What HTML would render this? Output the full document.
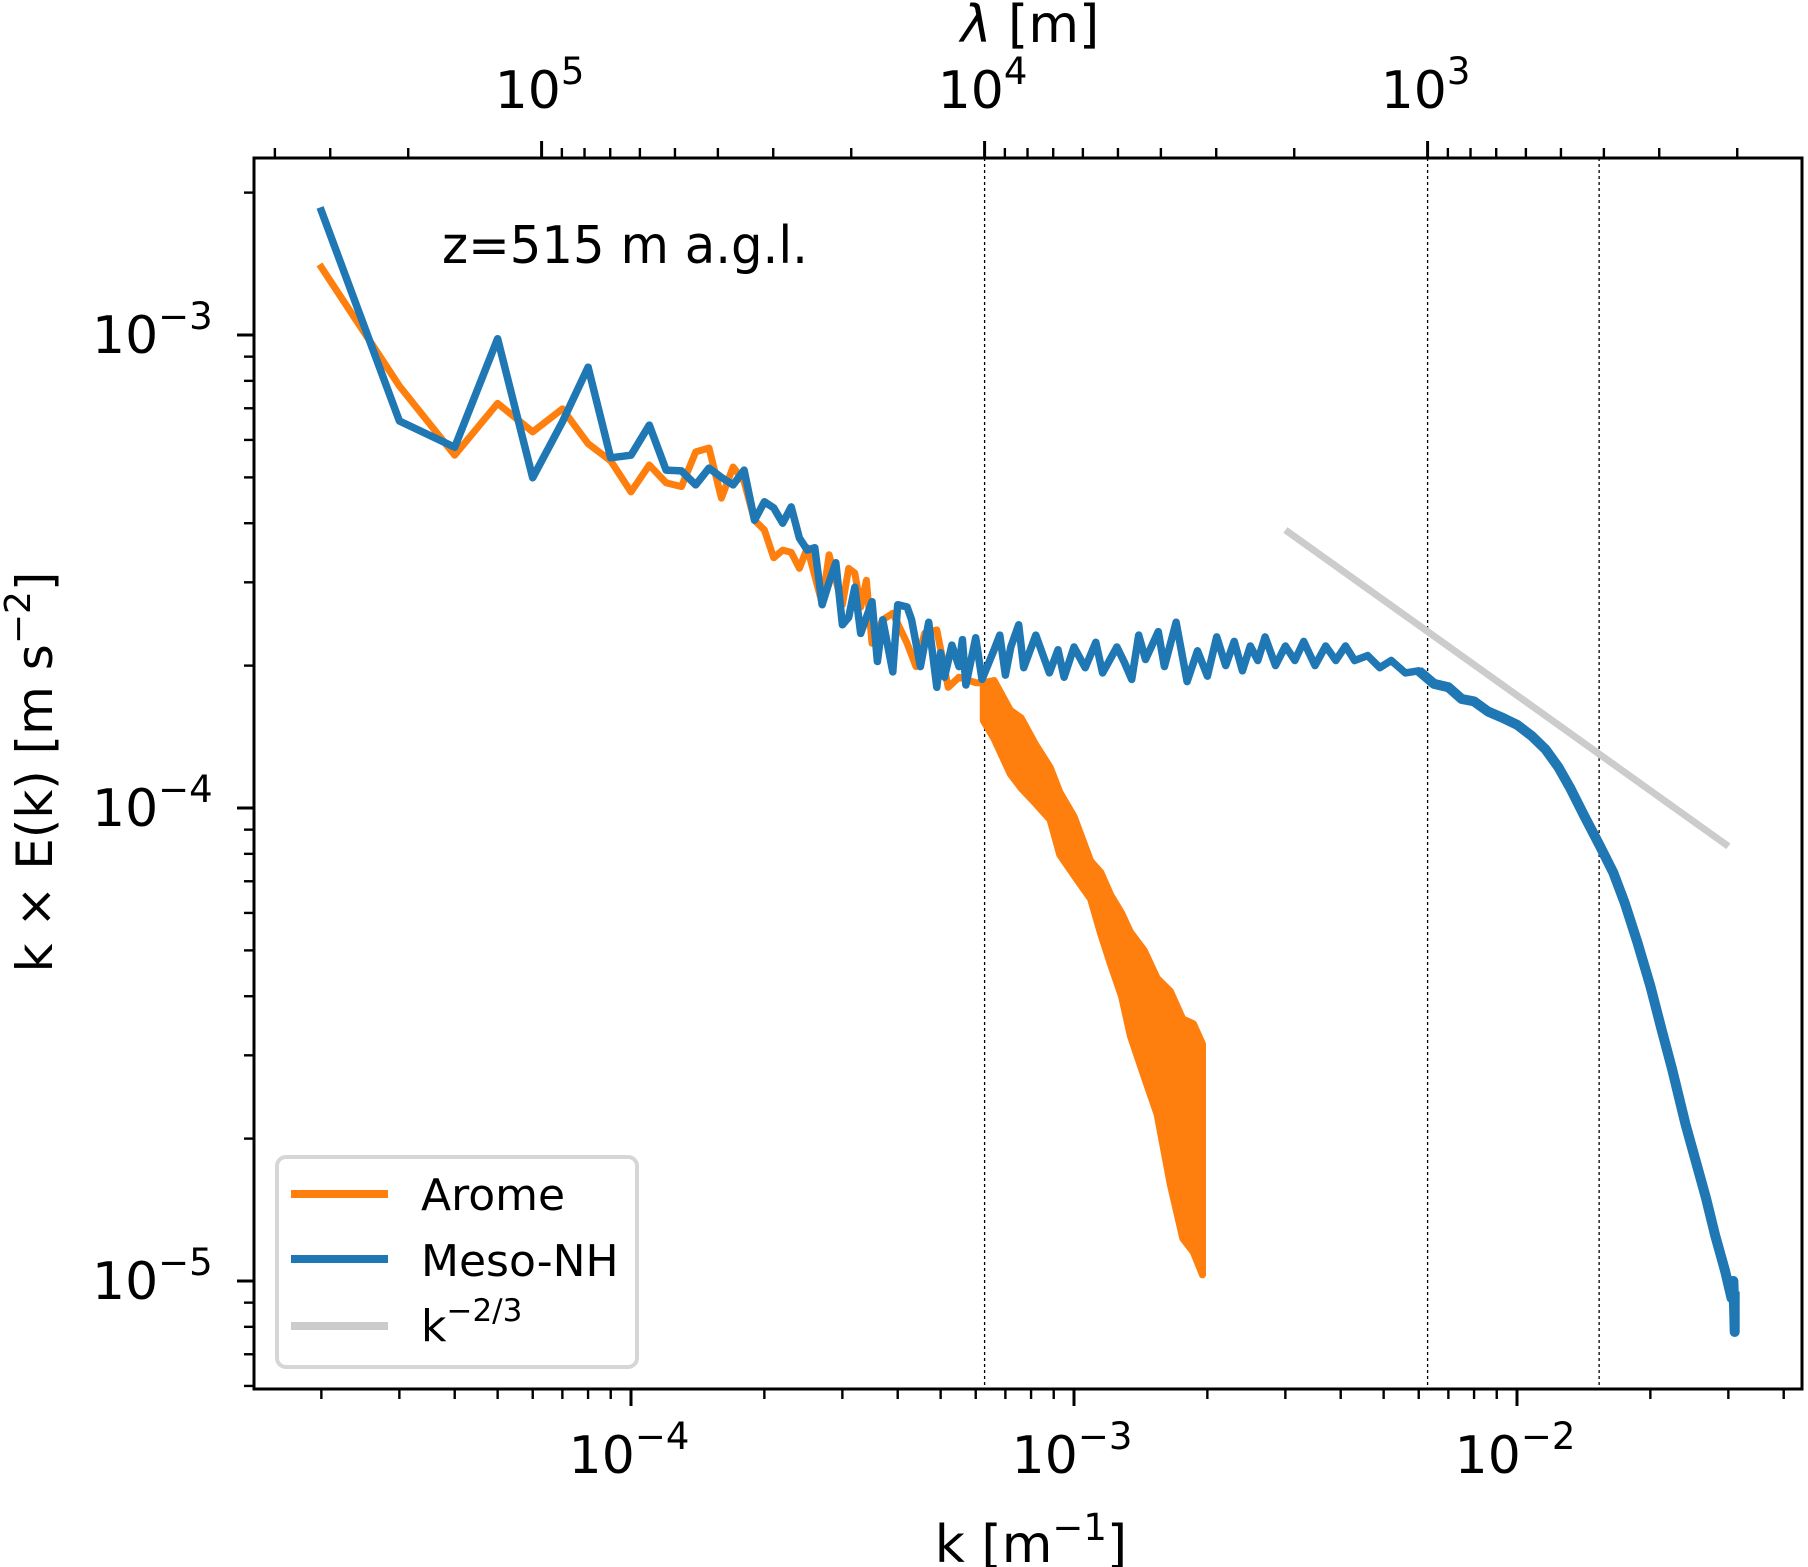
<!DOCTYPE html>
<html><head><meta charset="utf-8"><style>
html,body{margin:0;padding:0;background:#fff}
svg{display:block;font-family:"DejaVu Sans","Liberation Sans",sans-serif}
</style></head><body>
<svg id="chart" width="1808" height="1567" viewBox="0 0 1808 1567" xmlns="http://www.w3.org/2000/svg">
<defs><clipPath id="plotclip"><rect x="254" y="158" width="1548" height="1231"/></clipPath></defs>
<rect x="0" y="0" width="1808" height="1567" fill="#fff"/>
<g id="grid"></g>
<g id="series" clip-path="url(#plotclip)"></g>
<rect x="254" y="158" width="1548" height="1231" fill="none" stroke="#000" stroke-width="3"/>
<g id="ticks"></g>
<text x="442" y="263" font-size="52" textLength="366" lengthAdjust="spacingAndGlyphs">z=515 m a.g.l.</text>
<text x="1031" y="1562" font-size="52" text-anchor="middle">k [m<tspan dy="-22" font-size="37">−1</tspan><tspan dy="22">]</tspan></text>
<text x="1030" y="42" font-size="52" text-anchor="middle"><tspan font-style="italic">λ</tspan> [m]</text>
<text transform="translate(52,772) rotate(-90)" font-size="50" text-anchor="middle">k × E(k) [m s<tspan dy="-22" font-size="36">−2</tspan><tspan dy="22">]</tspan></text>
<g>
<rect x="277" y="1157" width="360" height="210" rx="9" fill="#fff" fill-opacity="0.8" stroke="#d6d6d6" stroke-width="4"/>
<line x1="291" y1="1194" x2="388" y2="1194" stroke="#ff7f0e" stroke-width="8"/>
<text x="421" y="1210" font-size="44">Arome</text>
<line x1="291" y1="1259" x2="388" y2="1259" stroke="#1f77b4" stroke-width="8"/>
<text x="421" y="1276" font-size="44">Meso-NH</text>
<line x1="291" y1="1326" x2="388" y2="1326" stroke="#cccccc" stroke-width="8"/>
<text x="421" y="1341" font-size="44">k<tspan dy="-20" font-size="31">−2/3</tspan></text>
</g>
</svg>
<script>
// ---- data ----
const aromeK = [2e-5,3e-5,4e-5,5e-5,6e-5,7e-5,8e-5,9e-5,1e-4,1.1e-4,1.2e-4,1.3e-4,1.4e-4,1.5e-4,1.6e-4,1.7e-4,1.8e-4,1.9e-4,2.0e-4,2.1e-4,2.2e-4,2.3e-4,2.4e-4,2.5e-4,2.7e-4,2.8e-4,3.0e-4,3.1e-4,3.2e-4,3.3e-4,3.4e-4,3.5e-4,3.7e-4,3.9e-4,4.2e-4,4.4e-4,4.6e-4,4.9e-4,5.2e-4,5.5e-4,6.0e-4,6.24e-4];
const aromeE = [1.39e-3,7.8e-4,5.57e-4,7.17e-4,6.24e-4,6.98e-4,5.89e-4,5.42e-4,4.66e-4,5.31e-4,4.87e-4,4.78e-4,5.66e-4,5.77e-4,4.52e-4,5.26e-4,4.9e-4,4.06e-4,3.87e-4,3.38e-4,3.51e-4,3.47e-4,3.21e-4,3.55e-4,2.71e-4,3.43e-4,2.69e-4,3.21e-4,3.14e-4,2.66e-4,3.03e-4,2.23e-4,2.5e-4,2.58e-4,2.23e-4,1.99e-4,2.34e-4,2.38e-4,1.8e-4,1.89e-4,1.84e-4,1.84e-4];
const aromeBandK = [6.24e-4,6.6e-4,7.18e-4,7.6e-4,8.2e-4,8.83e-4,9.29e-4,1.0e-3,1.09e-3,1.15e-3,1.21e-3,1.28e-3,1.34e-3,1.44e-3,1.54e-3,1.65e-3,1.76e-3,1.86e-3,1.95e-3];
const aromeBandHi = [1.84e-4,1.86e-4,1.61e-4,1.55e-4,1.36e-4,1.22e-4,1.08e-4,9.6e-5,7.73e-5,7.3e-5,6.55e-5,6.0e-5,5.47e-5,5.0e-5,4.37e-5,4.1e-5,3.58e-5,3.5e-5,3.17e-5];
const aromeBandLo = [1.53e-4,1.4e-4,1.18e-4,1.1e-4,1.02e-4,9.44e-5,7.96e-5,7.2e-5,6.42e-5,5.4e-5,4.66e-5,4.0e-5,3.30e-5,2.7e-5,2.25e-5,1.6e-5,1.23e-5,1.15e-5,1.03e-5];
const mesoK = [2e-5,3e-5,4e-5,5e-5,6e-5,7e-5,8e-5,9e-5,1e-4,1.1e-4,1.2e-4,1.3e-4,1.4e-4,1.5e-4,1.6e-4,1.7e-4,1.8e-4,1.9e-4,2.0e-4,2.1e-4,2.2e-4,2.3e-4,2.4e-4,2.5e-4,2.6e-4,2.7e-4,2.8e-4,2.9e-4,3.0e-4,3.1e-4,3.2e-4,3.3e-4,3.5e-4,3.6e-4,3.7e-4,3.9e-4,4.0e-4,4.2e-4,4.3e-4,4.5e-4,4.7e-4,4.9e-4,5.0e-4,5.1e-4,5.3e-4,5.5e-4,5.6e-4,5.7e-4,6.0e-4,6.2e-4,6.6e-4,6.8e-4,7.0e-4,7.2e-4,7.5e-4,7.7e-4,8.2e-4,8.8e-4,9.2e-4,9.5e-4,1.0e-3,1.06e-3,1.12e-3,1.16e-3,1.25e-3,1.3e-3,1.35e-3,1.4e-3,1.45e-3,1.55e-3,1.6e-3,1.7e-3,1.8e-3,1.9e-3,2.0e-3,2.1e-3,2.2e-3,2.3e-3,2.4e-3,2.5e-3,2.6e-3,2.7e-3,2.85e-3,3.0e-3,3.15e-3,3.3e-3,3.5e-3,3.7e-3,3.9e-3,4.1e-3,4.3e-3,4.6e-3,4.9e-3,5.2e-3,5.6e-3,6.0e-3,6.5e-3,7.0e-3,7.5e-3,8.0e-3,8.6e-3,9.3e-3,1.0e-2,1.08e-2,1.16e-2,1.24e-2,1.32e-2,1.42e-2,1.54e-2,1.65e-2,1.75e-2,1.87e-2,2.0e-2,2.12e-2,2.24e-2,2.4e-2,2.55e-2,2.67e-2,2.8e-2,2.95e-2,3.05e-2,3.08e-2,3.1e-2,3.1e-2];
const mesoE = [1.83e-3,6.58e-4,5.79e-4,9.82e-4,4.99e-4,6.55e-4,8.55e-4,5.50e-4,5.57e-4,6.45e-4,5.18e-4,5.16e-4,4.82e-4,5.23e-4,5.0e-4,4.82e-4,5.18e-4,4.06e-4,4.44e-4,4.31e-4,4.0e-4,4.33e-4,3.72e-4,3.51e-4,3.55e-4,2.69e-4,3.0e-4,3.30e-4,2.44e-4,2.53e-4,2.93e-4,2.34e-4,2.73e-4,2.04e-4,2.50e-4,1.94e-4,2.69e-4,2.66e-4,2.50e-4,1.99e-4,2.47e-4,1.80e-4,2.13e-4,1.89e-4,2.21e-4,1.99e-4,2.27e-4,1.82e-4,2.29e-4,1.87e-4,2.16e-4,2.32e-4,1.91e-4,2.19e-4,2.44e-4,1.98e-4,2.32e-4,1.93e-4,2.16e-4,1.89e-4,2.19e-4,1.98e-4,2.24e-4,1.93e-4,2.19e-4,2.03e-4,1.87e-4,2.32e-4,2.06e-4,2.36e-4,1.99e-4,2.47e-4,1.85e-4,2.15e-4,1.9e-4,2.3e-4,2.0e-4,2.25e-4,1.95e-4,2.2e-4,2.05e-4,2.3e-4,2.0e-4,2.2e-4,2.05e-4,2.25e-4,2.0e-4,2.2e-4,2.05e-4,2.2e-4,2.05e-4,2.1e-4,1.98e-4,2.05e-4,1.93e-4,1.95e-4,1.83e-4,1.8e-4,1.7e-4,1.68e-4,1.6e-4,1.55e-4,1.5e-4,1.42e-4,1.33e-4,1.22e-4,1.1e-4,9.6e-5,8.3e-5,7.3e-5,6.3e-5,5.2e-5,4.2e-5,3.4e-5,2.8e-5,2.15e-5,1.75e-5,1.5e-5,1.25e-5,1.05e-5,9.2e-6,1.0e-5,7.8e-6,9.5e-6];
const slopeK = [3e-3,3e-2];
const slopeE = [3.87e-4,8.3e-5];
const refLambda = [1e4,1e3,410];
const xMajor = [1e-4,1e-3,1e-2];
const xMajorLabels = ["−4","−3","−2"];
const yMajor = [1e-5,1e-4,1e-3];
const yMajorLabels = ["−5","−4","−3"];
const lamMajor = [1e5,1e4,1e3];
const lamMajorLabels = ["5","4","3"];

// ---- scales ----
const L=254,R=1802,T=158,B=1389;
function X(k){return 631+443*(Math.log10(k)+4);}
function Y(v){return 1281-473*(Math.log10(v)+5);}
const NS="http://www.w3.org/2000/svg";
function mk(tag,attrs,parent){const e=document.createElementNS(NS,tag);for(const a in attrs)e.setAttribute(a,attrs[a]);parent.appendChild(e);return e;}
const series=document.getElementById('series'), grid=document.getElementById('grid'), ticks=document.getElementById('ticks');

refLambda.forEach(l=>{const x=X(2*Math.PI/l);
 const ln=mk('line',{x1:x,x2:x,y1:T,y2:B,stroke:'#000','stroke-width':1.3,'stroke-dasharray':'3,3'},grid);
 
 });

function poly(ks,vs){return ks.map((k,i)=>X(k).toFixed(1)+','+Y(vs[i]).toFixed(1)).join(' ');}
const aLine=mk('polyline',{points:poly(aromeK,aromeE),fill:'none',stroke:'#ff7f0e','stroke-width':7,'stroke-linejoin':'round','stroke-linecap':'square'},series);


const bandPts=poly(aromeBandK,aromeBandHi)+' '+poly(aromeBandK.slice().reverse(),aromeBandLo.slice().reverse());
const aBand=mk('polygon',{points:bandPts,fill:'#ff7f0e',stroke:'#ff7f0e','stroke-width':7,'stroke-linejoin':'round'},series);


const mLine=mk('polyline',{points:poly(mesoK,mesoE),fill:'none',stroke:'#1f77b4','stroke-width':7.5,'stroke-linejoin':'round','stroke-linecap':'square'},series);


const tailStart=mesoK.findIndex(k=>k>=6e-3);
const mTail=mk('polyline',{points:poly(mesoK.slice(tailStart),mesoE.slice(tailStart)),fill:'none',stroke:'#1f77b4','stroke-width':10,'stroke-linejoin':'round'},series);


const sLine=mk('polyline',{points:poly(slopeK,slopeE),fill:'none',stroke:'#cccccc','stroke-width':7},series);



function tick(x1,y1,x2,y2,w){const t=mk('line',{x1,y1,x2,y2,stroke:'#000','stroke-width':w},ticks);
 
 }
function label(x,y,base,sup,anchor){const t=mk('text',{x,y,'font-size':52,'text-anchor':anchor},ticks);
 
 
 t.appendChild(document.createTextNode(base));
 const s=mk('tspan',{dy:-24,'font-size':37},t);s.textContent=sup;}
for(let e=-5;e<=-2;e++)for(let m=1;m<10;m++){const k=m*Math.pow(10,e);const x=X(k);if(x<L||x>R)continue;
 if(m===1)tick(x,B,x,B+17,3);else tick(x,B,x,B+10,2.4);}
xMajor.forEach((k,i)=>label(X(k)-2,1473,"10",xMajorLabels[i],'middle'));
for(let e=-6;e<=-3;e++)for(let m=1;m<10;m++){const v=m*Math.pow(10,e);const y=Y(v);if(y<T||y>B)continue;
 if(m===1)tick(L-17,y,L,y,3);else tick(L-10,y,L,y,2.4);}
yMajor.forEach((v,i)=>label(92,Y(v)+18,"10",yMajorLabels[i],'start'));
for(let e=2;e<=5;e++)for(let m=1;m<10;m++){const l=m*Math.pow(10,e);const x=X(2*Math.PI/l);if(x<L||x>R)continue;
 if(m===1)tick(x,T-17,x,T,3);else tick(x,T-10,x,T,2.4);}
lamMajor.forEach((l,i)=>label(X(2*Math.PI/l)-2,108,"10",lamMajorLabels[i],'middle'));
</script>
</body></html>
